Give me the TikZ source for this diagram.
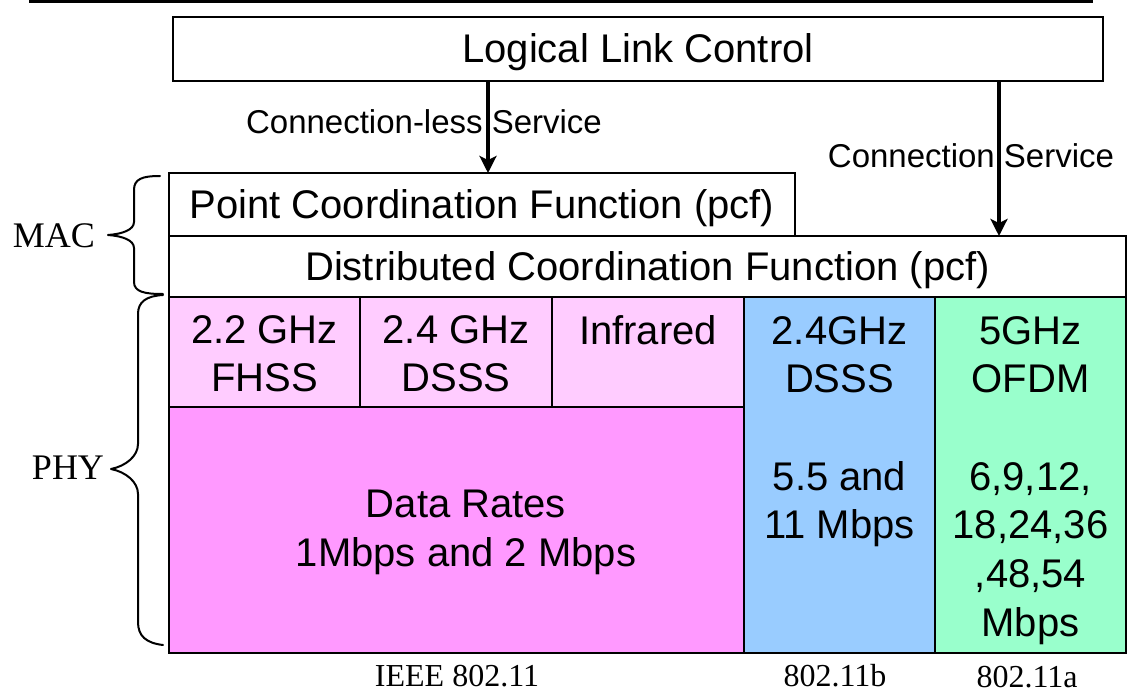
\documentclass[tikz,border=0pt]{standalone}
\usepackage{fontspec}
\setmainfont{Liberation Sans}
\newfontfamily\serifface{Liberation Serif}
\usetikzlibrary{arrows.meta}

\definecolor{phylite}{HTML}{FFCCFF}
\definecolor{ratepink}{HTML}{FF99FF}
\definecolor{bblue}{HTML}{99CCFF}
\definecolor{agreen}{HTML}{99FFCC}

\begin{document}
\begin{tikzpicture}[x=1pt,y=-1pt,
  frame/.style={draw=black, line width=2pt, inner sep=0pt, outer sep=0pt, anchor=north west},
  layer/.style={frame, font=\fontsize{40}{48}\selectfont, text height=28pt, text depth=0pt},
  cell/.style={font=\fontsize{40}{48.7}\selectfont, inner sep=0pt, align=center, anchor=north},
  svc/.style={font=\fontsize{33}{40}\selectfont, inner sep=0pt, anchor=base},
  side/.style={font=\serifface\fontsize{36}{40}\selectfont, inner sep=0pt, anchor=base},
  std/.style={font=\serifface\fontsize{32}{36}\selectfont, inner sep=0pt, anchor=base},
  flow/.style={line width=3.5pt, -{Stealth[length=17pt,width=17pt,inset=4pt]}},
  brace/.style={line width=2pt, line cap=round, line join=round}
]
\useasboundingbox (0,0) rectangle (1127,693);

% rule along the top edge
\draw[line width=3.5pt] (29,1.5) -- (1093,1.5);

% protocol layers
\node[layer, minimum width=930pt, minimum height=64pt] (llc) at (173,17) {Logical Link Control};
\node[layer, minimum width=626pt, minimum height=63pt] (pcf) at (169,173) {Point Coordination Function (pcf)};
\node[layer, minimum width=957pt, minimum height=61pt] (dcf) at (169,236) {Distributed Coordination Function (pcf)};

% physical layer cells
\node[frame, fill=phylite, minimum width=191pt, minimum height=110pt] (fhss) at (169,297) {};
\node[frame, fill=phylite, minimum width=192pt, minimum height=110pt] (dsss) at (360,297) {};
\node[frame, fill=phylite, minimum width=192pt, minimum height=110pt] (ir) at (552,297) {};
\node[frame, fill=ratepink, minimum width=575pt, minimum height=246pt] (rates) at (169,407) {};
\node[frame, fill=bblue, minimum width=191pt, minimum height=356pt] (b) at (744,297) {};
\node[frame, fill=agreen, minimum width=191pt, minimum height=356pt] (a) at (935,297) {};

\node[cell] (fhsst) at ([yshift=-18pt]fhss.north) {2.2 GHz\\FHSS};
\node[cell] (dssst) at ([yshift=-18pt]dsss.north) {2.4 GHz\\DSSS};
\node[cell] (irt) at ([yshift=-18pt]ir.north) {Infrared};
\node[cell] (bt) at ([yshift=-19pt]b.north) {2.4GHz\\DSSS\\[48.7pt]5.5 and\\11 Mbps};
\node[cell] (at) at ([yshift=-19pt]a.north) {5GHz\\OFDM\\[48.7pt]6,9,12,\\18,24,36\\,48,54\\Mbps};
\node[cell] (ratest) at (466,490) {Data Rates\\1Mbps and 2 Mbps};

% services offered by LLC
\node[svc] (cls) at (424,133) {Connection-less Service};
\node[svc] (cs) at (971,167) {Connection Service};
\coordinate (xl) at (488,0);
\coordinate (xr) at (999,0);
\draw[flow] (llc.south -| xl) -- (pcf.north -| xl);
\draw[flow] (llc.south -| xr) -- (dcf.north -| xr);

% sublayer braces
\draw[brace] (160,176) .. controls (142,176) and (134,179) .. (134,190) -- (134,222)
  .. controls (134,230) and (122,234) .. (108,235)
  .. controls (122,236) and (134,240) .. (134,248) -- (134,282)
  .. controls (134,292) and (145,294) .. (163,294);
\draw[brace] (163,295) .. controls (146,296) and (138,302) .. (138,314) -- (138,444)
  .. controls (138,456) and (126,466) .. (111,469)
  .. controls (126,472) and (138,482) .. (138,494) -- (138,622)
  .. controls (138,636) and (146,643) .. (163,645);
\node[side] (mac) at (54,247) {MAC};
\node[side] (phy) at (68,479) {PHY};

% standards
\node[std] (ieee) at (457,686) {IEEE 802.11};
\node[std] (stdb) at (835,686) {802.11b};
\node[std] (stda) at (1027,687) {802.11a};
\end{tikzpicture}
\end{document}
